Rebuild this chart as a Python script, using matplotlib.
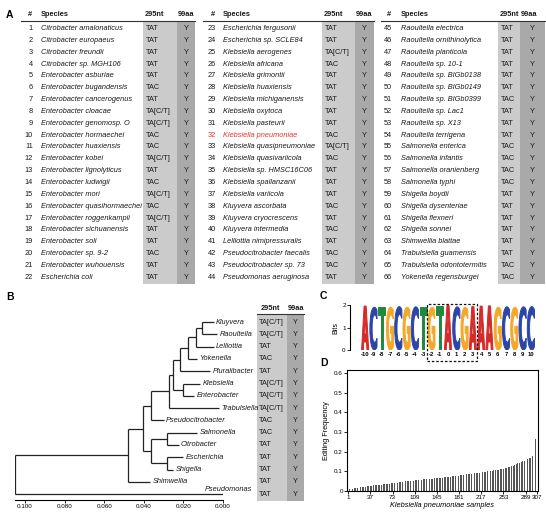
import matplotlib
matplotlib.use('Agg')
import matplotlib.pyplot as plt
from matplotlib.patches import Rectangle, PathPatch
from matplotlib.textpath import TextPath
from matplotlib.font_manager import FontProperties
import matplotlib.transforms as mtransforms

plt.rcParams['font.family'] = ['Liberation Sans', 'DejaVu Sans']

# ---------------- DATA ----------------
species_a = [
    "Citrobacter amalonaticus", "Citrobacter europaeus", "Citrobacter freundii", "Citrobacter sp. MGH106",
    "Enterobacter asburiae", "Enterobacter bugandensis", "Enterobacter cancerogenus", "Enterobacter cloacae",
    "Enterobacter genomosp. O", "Enterobacter hormaechei", "Enterobacter huaxiensis", "Enterobacter kobei",
    "Enterobacter lignolyticus", "Enterobacter ludwigii", "Enterobacter mori", "Enterobacter quasihormaechei",
    "Enterobacter roggenkampii", "Enterobacter sichuanensis", "Enterobacter soli", "Enterobacter sp. 9-2",
    "Enterobacter wuhouensis", "Escherichia coli",
    "Escherichia fergusonii", "Escherichia sp. SCLE84", "Klebsiella aerogenes", "Klebsiella africana",
    "Klebsiella grimontii", "Klebsiella huaxiensis", "Klebsiella michiganensis", "Klebsiella oxytoca",
    "Klebsiella pasteurii", "Klebsiella pneumoniae", "Klebsiella quasipneumoniae", "Klebsiella quasivariicola",
    "Klebsiella sp. HMSC16C06", "Klebsiella spallanzanii", "Klebsiella variicola", "Kluyvera ascorbata",
    "Kluyvera cryocrescens", "Kluyvera intermedia", "Lelliottia nimipressuralis", "Pseudocitrobacter faecalis",
    "Pseudocitrobacter sp. 73", "Pseudomonas aeruginosa",
    "Raoultella electrica", "Raoultella ornithinolytica", "Raoultella planticola", "Raoultella sp. 10-1",
    "Raoultella sp. BIGb0138", "Raoultella sp. BIGb0149", "Raoultella sp. BIGb0399", "Raoultella sp. Lac1",
    "Raoultella sp. X13", "Raoultella terrigena", "Salmonella enterica", "Salmonella infantis",
    "Salmonella oranienberg", "Salmonella typhi", "Shigella boydii", "Shigella dysenteriae",
    "Shigella flexneri", "Shigella sonnei", "Shimwellia blattae", "Trabulsiella guamensis",
    "Trabulsiella odontotermitis", "Yokenella regensburgei",
]
codon_a = [
    "TAT", "TAT", "TAT", "TAT", "TAT", "TAC", "TAT", "TA[C/T]", "TA[C/T]", "TAC", "TAC",
    "TA[C/T]", "TAT", "TAC", "TA[C/T]", "TAC", "TA[C/T]", "TAT", "TAT", "TAC", "TAT", "TAT",
    "TAT", "TAT", "TA[C/T]", "TAC", "TAT", "TAT", "TAT", "TAT", "TAT", "TAC", "TA[C/T]",
    "TAC", "TAT", "TAT", "TAT", "TAC", "TAT", "TAC", "TAT", "TAC", "TAC", "TAT",
    "TAT", "TAT", "TAT", "TAT", "TAT", "TAT", "TAC", "TAT", "TAT", "TAT", "TAC",
    "TAC", "TAC", "TAC", "TAT", "TAT", "TAT", "TAT", "TAT", "TAT", "TAC", "TAC",
]
aa_a = ["Y"] * 66
highlight_a = "Klebsiella pneumoniae"

tree_leaves = ["Kluyvera", "Raoultella", "Lelliottia", "Yokenella", "Pluralibacter", "Klebsiella",
               "Enterobacter", "Trabulsiella", "Pseudocitrobacter", "Salmonella", "Citrobacter",
               "Escherichia", "Shigella", "Shimwellia", "Pseudomonas"]
leaf_depth = [0.0047, 0.0030, 0.0047, 0.0132, 0.0064, 0.0115, 0.0145, 0.0022, 0.0300,
              0.0130, 0.0224, 0.0200, 0.0250, 0.0368, 0.0]
tree_nodes = [  # (name, child1, child2, depth)
    ("KR", "Kluyvera", "Raoultella", 0.0106),
    ("KRL", "KR", "Lelliottia", 0.0137),
    ("KRLY", "KRL", "Yokenella", 0.0179),
    ("KRLYP", "KRLY", "Pluralibacter", 0.0216),
    ("KE", "Klebsiella", "Enterobacter", 0.0200),
    ("G1", "KRLYP", "KE", 0.0250),
    ("G2", "G1", "Trabulsiella", 0.0275),
    ("G3", "G2", "Pseudocitrobacter", 0.0364),
    ("SC", "Salmonella", "Citrobacter", 0.0283),
    ("ES", "Escherichia", "Shigella", 0.0283),
    ("G4", "SC", "ES", 0.0364),
    ("G5", "G3", "G4", 0.0405),
    ("G6", "G5", "Shimwellia", 0.0480),
    ("root", "G6", "Pseudomonas", 0.1050),
]
codon_b = ["TA[C/T]", "TA[C/T]", "TAT", "TAC", "TAT", "TA[C/T]", "TA[C/T]", "TA[C/T]",
           "TAC", "TAC", "TAT", "TAT", "TAT", "TAT", "TAT"]
aa_b = ["Y"] * 15
tree_ticks = [0.100, 0.080, 0.060, 0.040, 0.020, 0.000]

logo_positions = list(range(-10, 11))
logo_letters = list("ACTGCGCTGTACGAAAGCGCC")
logo_bits = [1.95, 1.90, 1.92, 1.90, 1.93, 1.90, 1.92, 1.93, 1.90, 1.95, 1.98,
             1.92, 1.90, 1.93, 1.95, 1.96, 1.90, 1.92, 1.90, 1.92, 1.93]
logo_ticklabels = ["-10", "-9", "-8", "-7", "-6", "-5", "-4", "-3", "-2", "-1", "0",
                   "1", "2", "3", "4", "5", "6", "7", "8", "9", "10"]

edit_freq = [
    0.004, 0.006, 0.008, 0.009, 0.010, 0.011, 0.012, 0.012, 0.013, 0.014, 0.015, 0.015,
    0.016, 0.016, 0.017, 0.017, 0.018, 0.018, 0.019, 0.019, 0.020, 0.020, 0.020, 0.021,
    0.021, 0.021, 0.022, 0.022, 0.022, 0.023, 0.023, 0.023, 0.024, 0.024, 0.024, 0.025,
    0.025, 0.026, 0.026, 0.027, 0.027, 0.028, 0.028, 0.029, 0.029, 0.029, 0.030, 0.030,
    0.031, 0.031, 0.032, 0.032, 0.032, 0.033, 0.033, 0.034, 0.034, 0.034, 0.035, 0.035,
    0.035, 0.036, 0.036, 0.036, 0.037, 0.037, 0.037, 0.038, 0.038, 0.038, 0.039, 0.039,
    0.039, 0.040, 0.040, 0.041, 0.041, 0.042, 0.042, 0.043, 0.043, 0.043, 0.044, 0.044,
    0.045, 0.045, 0.046, 0.046, 0.047, 0.047, 0.047, 0.048, 0.048, 0.049, 0.049, 0.050,
    0.050, 0.050, 0.051, 0.051, 0.051, 0.052, 0.052, 0.052, 0.053, 0.053, 0.053, 0.053,
    0.054, 0.054, 0.054, 0.055, 0.055, 0.055, 0.056, 0.056, 0.057, 0.057, 0.057, 0.058,
    0.058, 0.058, 0.059, 0.059, 0.059, 0.060, 0.060, 0.060, 0.061, 0.061, 0.061, 0.062,
    0.062, 0.062, 0.062, 0.063, 0.063, 0.063, 0.064, 0.064, 0.064, 0.064, 0.065, 0.065,
    0.065, 0.066, 0.066, 0.066, 0.067, 0.067, 0.067, 0.068, 0.068, 0.068, 0.069, 0.069,
    0.069, 0.070, 0.070, 0.070, 0.071, 0.071, 0.071, 0.072, 0.072, 0.072, 0.073, 0.073,
    0.073, 0.074, 0.074, 0.074, 0.075, 0.075, 0.075, 0.076, 0.076, 0.076, 0.077, 0.077,
    0.078, 0.078, 0.079, 0.079, 0.080, 0.080, 0.081, 0.081, 0.082, 0.082, 0.083, 0.083,
    0.084, 0.084, 0.085, 0.085, 0.086, 0.086, 0.087, 0.087, 0.088, 0.088, 0.089, 0.089,
    0.090, 0.090, 0.091, 0.091, 0.092, 0.092, 0.093, 0.093, 0.094, 0.094, 0.094, 0.095,
    0.095, 0.096, 0.096, 0.097, 0.097, 0.098, 0.098, 0.099, 0.099, 0.100, 0.100, 0.101,
    0.101, 0.102, 0.102, 0.103, 0.103, 0.104, 0.104, 0.105, 0.105, 0.106, 0.106, 0.107,
    0.107, 0.108, 0.108, 0.109, 0.109, 0.110, 0.110, 0.110, 0.111, 0.111, 0.112, 0.112,
    0.113, 0.114, 0.115, 0.116, 0.117, 0.118, 0.119, 0.120, 0.121, 0.122, 0.123, 0.124,
    0.125, 0.126, 0.127, 0.128, 0.129, 0.130, 0.132, 0.134, 0.136, 0.138, 0.139, 0.140,
    0.141, 0.142, 0.143, 0.144, 0.146, 0.147, 0.149, 0.150, 0.151, 0.152, 0.154, 0.155,
    0.157, 0.158, 0.160, 0.161, 0.163, 0.164, 0.166, 0.168, 0.170, 0.172, 0.175, 0.178,
    0.185, 0.200, 0.220, 0.240, 0.265, 0.290, 0.500,
]
d_xticks = [1, 37, 73, 109, 145, 181, 217, 253, 289, 307]
d_yticks = [0, 0.1, 0.2, 0.3, 0.4, 0.5, 0.6]

# ---------------- STYLE / LAYOUT ----------------
W, H = 546, 513
LIGHT, DARK = '#cbcbcb', '#a9a9a9'
TXT = '#1a1a1a'
RED = '#e8342c'
FS = 5.3
LOGO_COL = {'A': '#d42a2a', 'C': '#2b46a6', 'G': '#f3a829', 'T': '#1f8a3c'}

fig = plt.figure(figsize=(W / 100, H / 100), dpi=100)


def fax(x0, y0, x1, y1):
    return fig.add_axes([x0 / W, 1 - y1 / H, (x1 - x0) / W, (y1 - y0) / H])


ax0 = fig.add_axes([0, 0, 1, 1])
ax0.set_xlim(0, W)
ax0.set_ylim(H, 0)
ax0.axis('off')

# ---------------- PANEL A ----------------
ax0.text(6, 15, "A", fontsize=7.5, fontweight='bold', va='center', ha='left')
blocks = [
    dict(num=33, sp=41, c1=(143, 177), c2=(177, 195), line=(21, 195)),
    dict(num=216, sp=223, c1=(322, 355), c2=(355, 374), line=(203, 374)),
    dict(num=392, sp=401, c1=(498, 520), c2=(520, 545), line=(381, 545)),
]
ROW0, ROWH = 28.5, 11.85
HEAD_Y, LINE_Y, GRAY_BOT = 15, 21, 284
for b, blk in enumerate(blocks):
    c1, c2 = blk['c1'], blk['c2']
    ax0.add_patch(Rectangle((c1[0], LINE_Y), c1[1] - c1[0], GRAY_BOT - LINE_Y, fc=LIGHT, ec='none'))
    ax0.add_patch(Rectangle((c2[0], LINE_Y), c2[1] - c2[0], GRAY_BOT - LINE_Y, fc=DARK, ec='none'))
    ax0.plot(blk['line'], [LINE_Y, LINE_Y], color='#333333', lw=0.8)
    ax0.text(blk['num'] - 3, HEAD_Y, "#", fontsize=FS, fontweight='bold', ha='center', va='center', color=TXT)
    ax0.text(blk['sp'], HEAD_Y, "Species", fontsize=FS, fontweight='bold', ha='left', va='center', color=TXT)
    ax0.text(c1[0] + 2, HEAD_Y, "295nt", fontsize=FS, fontweight='bold', ha='left', va='center', color=TXT)
    ax0.text(c2[0] + 1, HEAD_Y, "99aa", fontsize=FS, fontweight='bold', ha='left', va='center', color=TXT)
    for r in range(22):
        i = b * 22 + r
        y = ROW0 + r * ROWH
        col = RED if species_a[i] == highlight_a else TXT
        ax0.text(blk['num'], y, str(i + 1), fontsize=FS, ha='right', va='center', color=col)
        ax0.text(blk['sp'], y, species_a[i], fontsize=FS, style='italic', ha='left', va='center', color=col)
        ax0.text(c1[0] + 3, y, codon_a[i], fontsize=FS, ha='left', va='center', color=TXT)
        ax0.text((c2[0] + c2[1]) / 2, y, aa_a[i], fontsize=FS, ha='center', va='center', color=TXT)

# ---------------- PANEL B ----------------
ax0.text(6, 297, "B", fontsize=7.5, fontweight='bold', va='center', ha='left')
B_ROW0, B_ROWH = 322, 12.3
B_TOP, B_BOT = 316, 500
axt = fax(15, B_TOP, 223, B_BOT)
axt.set_xlim(0.105, 0.0)
axt.set_ylim((B_BOT - B_ROW0) / B_ROWH, (B_TOP - B_ROW0) / B_ROWH)
pos_y = {n: i for i, n in enumerate(tree_leaves)}
pos_x = {n: d for n, d in zip(tree_leaves, leaf_depth)}
lw_t = 0.9
for name, a, b, d in tree_nodes:
    ya, yb = pos_y[a], pos_y[b]
    axt.plot([d, d], [ya, yb], color='#222222', lw=lw_t, solid_capstyle='butt')
    axt.plot([d, pos_x[a]], [ya, ya], color='#222222', lw=lw_t, solid_capstyle='butt')
    axt.plot([d, pos_x[b]], [yb, yb], color='#222222', lw=lw_t, solid_capstyle='butt')
    pos_y[name] = (ya + yb) / 2
    pos_x[name] = d
for i, (n, d) in enumerate(zip(tree_leaves, leaf_depth)):
    if n == "Pseudomonas":
        axt.text(-0.0145, i - 0.08, n, fontsize=FS, style='italic', ha='right', va='bottom',
                 color=TXT, clip_on=False)
    else:
        axt.text(d - 0.0012, i, n, fontsize=FS, style='italic', ha='left', va='center',
                 color=TXT, clip_on=False)
for s in ['top', 'right', 'left']:
    axt.spines[s].set_visible(False)
axt.spines['bottom'].set_linewidth(0.8)
axt.set_yticks([])
axt.set_xticks(tree_ticks)
axt.set_xticklabels([f"{t:.3f}" for t in tree_ticks])
axt.tick_params(axis='x', labelsize=4.5, length=2, width=0.6, pad=1)
axt.patch.set_alpha(0)

# table B
bc1, bc2 = (257, 287), (287, 304)
BLINE = 314
ax0.add_patch(Rectangle((bc1[0], BLINE), bc1[1] - bc1[0], 501 - BLINE, fc=LIGHT, ec='none'))
ax0.add_patch(Rectangle((bc2[0], BLINE), bc2[1] - bc2[0], 501 - BLINE, fc=DARK, ec='none'))
ax0.plot([bc1[0], bc2[1]], [BLINE, BLINE], color='#333333', lw=0.8)
ax0.text(bc1[0] + 4, 308, "295nt", fontsize=FS, fontweight='bold', ha='left', va='center', color=TXT)
ax0.text(bc2[0] + 0.5, 308, "99aa", fontsize=FS, fontweight='bold', ha='left', va='center', color=TXT)
for i in range(15):
    y = B_ROW0 + i * B_ROWH
    ax0.text(bc1[0] + 2, y, codon_b[i], fontsize=FS, ha='left', va='center', color=TXT)
    ax0.text((bc2[0] + bc2[1]) / 2, y, aa_b[i], fontsize=FS, ha='center', va='center', color=TXT)

# ---------------- PANEL C ----------------
ax0.text(320, 296, "C", fontsize=7.5, fontweight='bold', va='center', ha='left')
axl = fax(361, 305, 535, 350)
axl.set_xlim(-10.5, 10.5)
axl.set_ylim(0, 2)
fp = FontProperties(family='DejaVu Sans', weight='bold')
for p, ch, h in zip(logo_positions, logo_letters, logo_bits):
    tp = TextPath((0, 0), ch, size=1, prop=fp)
    bb = tp.get_extents()
    w = 0.86
    tr = mtransforms.Affine2D().translate(-bb.x0, -bb.y0).scale(w / bb.width, h / bb.height).translate(p - w / 2, 0)
    axl.add_patch(PathPatch(tr.transform_path(tp), fc=LOGO_COL[ch], ec=LOGO_COL[ch], lw=0.7,
                            joinstyle='miter'))
axl.add_patch(Rectangle((-2.5, -0.5), 6.0, 2.55, fill=False, ec='#111111', lw=0.9,
                        ls=(0, (2, 1.5)), clip_on=False, zorder=5))
for s in ['top', 'right', 'bottom']:
    axl.spines[s].set_visible(False)
axl.spines['left'].set_position(('outward', 8))
axl.spines['left'].set_linewidth(0.8)
axl.set_yticks([0, 1, 2])
axl.set_xticks(logo_positions)
axl.set_xticklabels(logo_ticklabels, fontweight='bold')
axl.tick_params(axis='x', labelsize=4.2, length=0, pad=1.5)
axl.tick_params(axis='y', labelsize=4.5, length=2, width=0.6, pad=1)
axl.set_ylabel("Bits", fontsize=5, labelpad=2)
axl.patch.set_alpha(0)

# ---------------- PANEL D ----------------
ax0.text(320, 363, "D", fontsize=7.5, fontweight='bold', va='center', ha='left')
axd = fax(347, 370, 538, 491)
xs = list(range(1, len(edit_freq) + 1))
axd.bar(xs, edit_freq, width=0.55, color='#555555', linewidth=0)
axd.set_xlim(-1, 309)
axd.set_ylim(0, 0.615)
axd.set_xticks(d_xticks)
axd.set_yticks(d_yticks)
axd.set_yticklabels(["0", "0.1", "0.2", "0.3", "0.4", "0.5", "0.6"])
axd.tick_params(labelsize=4.5, length=2, width=0.6, pad=1)
for s in axd.spines.values():
    s.set_linewidth(0.8)
axd.set_ylabel("Editing Frequency", fontsize=5.3, labelpad=3)
axd.set_xlabel("Klebsiella pneumoniae samples", fontsize=5.3, style='italic', labelpad=1.5)

fig.savefig("out.png", dpi=100)
